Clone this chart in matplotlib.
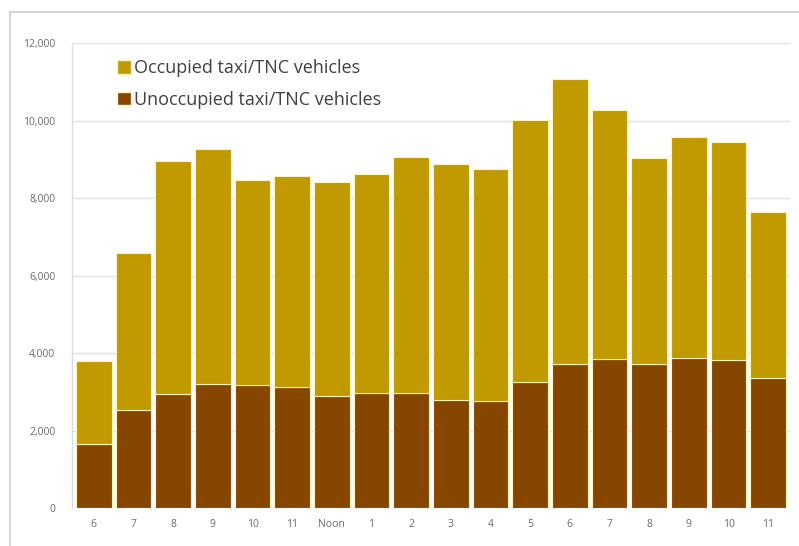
import numpy as np
import matplotlib
matplotlib.use("Agg")
import matplotlib.pyplot as plt
from matplotlib.patches import Patch
from matplotlib.lines import Line2D

hours = ["6", "7", "8", "9", "10", "11", "Noon", "1", "2", "3", "4",
         "5", "6", "7", "8", "9", "10", "11"]
# vehicle counts
unoccupied = [1650, 2520, 2930, 3200, 3180, 3130, 2890, 2980, 2980, 2790,
              2760, 3250, 3720, 3840, 3710, 3870, 3820, 3350]
total = [3800, 6570, 8960, 9260, 8460, 8580, 8410, 8620, 9060, 8890,
         8740, 10010, 11060, 10280, 9020, 9570, 9450, 7640]
occupied = [t - u for t, u in zip(total, unoccupied)]

c_occ = "#C09A00"
c_unocc = "#874600"
edge = "#FFF4B8"

plt.rcParams["font.family"] = ["Open Sans", "DejaVu Sans"]

fig = plt.figure(figsize=(7.99, 5.46), dpi=100)
ax = fig.add_axes([0.0901, 0.0696, 0.8986, 0.8516])

x = np.arange(len(hours))
ax.bar(x, unoccupied, width=0.9, color=c_unocc, edgecolor=edge, linewidth=0.8, zorder=3)
ax.bar(x, occupied, bottom=unoccupied, width=0.9, color=c_occ, edgecolor=edge,
       linewidth=0.8, zorder=3)

ax.set_xlim(-0.55, len(hours) - 0.45)
ax.set_ylim(0, 12000)
ax.set_yticks(range(0, 12001, 2000))
ax.set_yticklabels([f"{v:,}" for v in range(0, 12001, 2000)])
ax.set_xticks(x)
ax.set_xticklabels(hours)
ax.tick_params(axis="both", length=0, labelsize=7.5, colors="#6b6b6b", pad=8)
ax.tick_params(axis="y", pad=12)
ax.grid(axis="y", color="#e2e2e2", linewidth=1, zorder=0)

for s in ["top", "right", "bottom"]:
    ax.spines[s].set_visible(False)
ax.spines["left"].set_color("#dcdcdc")
ax.spines["left"].set_linewidth(1)

handles = [Patch(facecolor=c_occ, edgecolor=edge), Patch(facecolor=c_unocc, edgecolor=edge)]
ax.legend(handles, ["Occupied taxi/TNC vehicles", "Unoccupied taxi/TNC vehicles"],
          loc="upper left", bbox_to_anchor=(0.04, 1.0), frameon=False,
          fontsize=13, labelcolor="#404040", handlelength=0.75, handleheight=0.75,
          handletextpad=0.2, labelspacing=0.75)

# outer chart frame (left and top edges visible)
fig.add_artist(Line2D([10 / 799, 10 / 799], [0, 1 - 12 / 546], transform=fig.transFigure,
                      color="#d6d6d6", linewidth=1.5))
fig.add_artist(Line2D([10 / 799, 1], [1 - 12 / 546, 1 - 12 / 546], transform=fig.transFigure,
                      color="#d6d6d6", linewidth=1.5))

fig.savefig("out.png", dpi=100)
